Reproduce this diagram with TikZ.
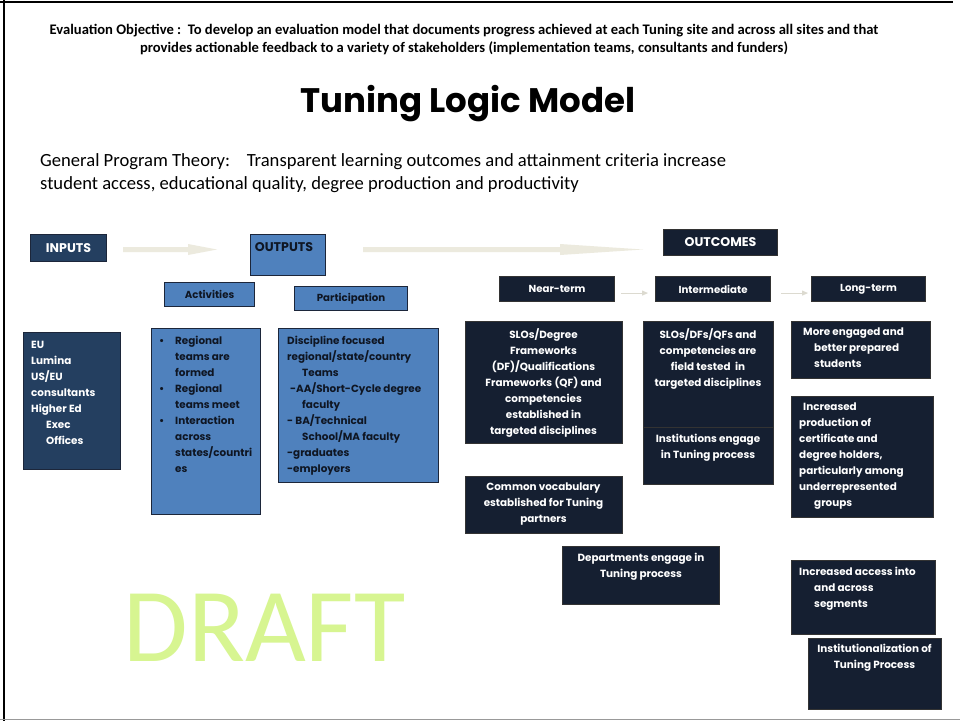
\documentclass[tikz,border=0pt]{standalone}
\usepackage{fontspec}
\setmainfont{Poppins}
\newfontfamily\calibri{Carlito}
\usetikzlibrary{arrows.meta}
\definecolor{lblue}{RGB}{79,129,189}
\definecolor{dslate}{RGB}{36,63,96}
\definecolor{dnavy}{RGB}{21,31,49}
\definecolor{arrowc}{RGB}{236,234,222}
\definecolor{draftc}{RGB}{215,245,145}
\definecolor{bordc}{RGB}{28,38,58}
\definecolor{darktext}{RGB}{15,22,35}
\tikzset{
  boxbase/.style={draw=bordc, line width=1.1pt, inner sep=0pt, anchor=north west},
  lbox/.style={boxbase, fill=lblue},
  sbox/.style={boxbase, fill=dslate},
  nbox/.style={boxbase, fill=dnavy, draw=black!80},
  btxt/.style={font=\fontsize{10.4}{16}\selectfont\bfseries, inner sep=0pt, text=white},
  htxt/.style={font=\fontsize{12.6}{14}\selectfont\bfseries, inner sep=0pt},
  subt/.style={font=\fontsize{10.2}{12}\selectfont\bfseries, inner sep=0pt},
  bigarrow/.style={fill=arrowc, draw=none},
  smallarrow/.style={draw=arrowc!85!gray, line width=0.9pt, -{Triangle[length=6pt,width=5pt]}}
}
\begin{document}
\begin{tikzpicture}[x=1pt,y=-1pt]
\useasboundingbox (0,0) rectangle (960,721);
\fill[white] (0,0) rectangle (960,721);
% frame
\draw[black, line width=2pt] (4,0) -- (4,721);
\draw[black, line width=1.5pt] (0,2) -- (953,2);
\draw[gray!80, line width=1.2pt] (0,719.5) -- (960,719.5);
% watermark
\node[font=\calibri\fontsize{105}{105}\selectfont, text=draftc, inner sep=0pt] (draft) at (264.5,628) {DRAFT};
% header
\node[font=\calibri\bfseries\fontsize{14.6}{18}\selectfont, align=center, inner sep=0pt] (obj) at (464,40)
 {Evaluation Objective :\ \ To develop an evaluation model that documents progress achieved at each Tuning site and across all sites and that\\
  provides actionable feedback to a variety of stakeholders (implementation teams, consultants and funders)};
\node[font=\fontsize{34}{38}\selectfont\bfseries, inner sep=0pt] (title) at (468,104) {Tuning Logic Model};
\node[font=\calibri\fontsize{18.6}{23}\selectfont, align=left, anchor=north west, inner sep=0pt] (theory) at (40,153)
 {General Program Theory:\hspace{0.6em} Transparent learning outcomes and attainment criteria increase\\
  student access, educational quality, degree production and productivity};
% header boxes
\node[sbox, minimum width=76pt, minimum height=27pt] (inputs) at (30,234) {};
\node[htxt, text=white] (inputsT) at (inputs.center) {INPUTS};
\node[lbox, minimum width=75pt, minimum height=41pt] (outputs) at (250,234) {};
\node[htxt, text=darktext] (outputsT) at (284,247) {OUTPUTS};
\node[nbox, minimum width=114pt, minimum height=26pt] (outcomes) at (663,229) {};
\node[htxt, text=white] (outcomesT) at (outcomes.center) {OUTCOMES};
% big light arrows (inputs -> outputs -> outcomes)
\coordinate (a1s) at (123,249.5);
\coordinate (a1e) at (217,249.5);
\coordinate (a2s) at (363,249.5);
\coordinate (a2e) at (643,249.5);
\fill[bigarrow] (a1s) ++(0,-2.5) -- ++(65,0) -- ++(0,-3) -- (a1e) -- ++(-29,5.5) -- ++(0,-3) -- ++(-65,0) -- cycle;
\fill[bigarrow] (a2s) ++(0,-2.5) -- ++(197,0) -- ++(0,-3) -- (a2e) -- ++(-83,5.5) -- ++(0,-3) -- ++(-197,0) -- cycle;
% sub headers
\node[lbox, minimum width=90pt, minimum height=24pt] (act) at (164,282) {};
\node[subt, text=darktext] (actT) at (act.center) {Activities};
\node[lbox, minimum width=113pt, minimum height=24pt] (part) at (294,286) {};
\node[subt, text=darktext] (partT) at (part.center) {Participation};
\node[nbox, minimum width=115pt, minimum height=25pt] (near) at (499,276) {};
\node[subt, text=white] (nearT) at (near.center) {Near-term};
\node[nbox, minimum width=115pt, minimum height=25pt] (inter) at (655,276) {};
\node[subt, text=white] (interT) at (inter.center) {Intermediate};
\node[nbox, minimum width=114pt, minimum height=25pt] (long) at (811,276) {};
\node[subt, text=white] (longT) at (long.center) {Long-term};
\draw[smallarrow] ([xshift=6pt,yshift=-4pt]near.east) -- ([xshift=-7pt,yshift=-4pt]inter.west);
\draw[smallarrow] ([xshift=10pt,yshift=-4pt]inter.east) -- ([xshift=-3pt,yshift=-4pt]long.west);
% inputs body
\node[sbox, minimum width=97pt, minimum height=137pt] (eu) at (23,332) {};
\node[btxt, anchor=north west, align=left] (euT) at (31,341)
 {EU\\Lumina\\US/EU\\consultants\\Higher Ed\\\hspace*{15pt}Exec\\\hspace*{15pt}Offices};
% activities body
\node[lbox, minimum width=109pt, minimum height=186pt] (actb) at (151,328) {};
\node[btxt, text=darktext, anchor=north west, align=left] (actbT) at (159,336)
 {\makebox[16pt][l]{\textbullet}Regional\\\hspace*{16pt}teams are\\\hspace*{16pt}formed\\
  \makebox[16pt][l]{\textbullet}Regional\\\hspace*{16pt}teams meet\\
  \makebox[16pt][l]{\textbullet}Interaction\\\hspace*{16pt}across\\\hspace*{16pt}states/countri\\\hspace*{16pt}es};
% participation body
\node[lbox, minimum width=160pt, minimum height=154pt] (partb) at (278,328) {};
\node[btxt, text=darktext, anchor=north west, align=left] (partbT) at (287,336)
 {Discipline focused\\regional/state/country\\\hspace*{15pt}Teams\\\hspace*{3pt}-AA/Short-Cycle degree\\\hspace*{15pt}faculty\\- BA/Technical\\\hspace*{15pt}School/MA faculty\\-graduates\\-employers};
% near-term body
\node[nbox, minimum width=157pt, minimum height=122pt] (slo) at (465,321) {};
\node[btxt, anchor=north, align=center] (sloT) at (543.5,328)
 {SLOs/Degree\\Frameworks\\(DF)/Qualifications\\Frameworks (QF) and\\competencies\\established in\\targeted disciplines};
\node[nbox, minimum width=157pt, minimum height=57pt] (vocab) at (465,476) {};
\node[btxt, anchor=north, align=center] (vocabT) at (543.5,483)
 {Common vocabulary\\established for Tuning\\partners};
\node[nbox, minimum width=157pt, minimum height=58pt] (dept) at (562,546) {};
\node[btxt, anchor=north, align=center] (deptT) at (641,553)
 {Departments engage in\\Tuning process};
% intermediate body
\node[nbox, minimum width=130pt, minimum height=106pt] (field) at (643,321) {};
\node[btxt, anchor=north, align=center] (fieldT) at (708,328)
 {SLOs/DFs/QFs and\\competencies are\\field tested\ \ in\\targeted disciplines};
\node[nbox, minimum width=130pt, minimum height=57pt] (inst) at (643,427) {};
\node[btxt, anchor=north, align=center] (instT) at (708,434)
 {Institutions engage\\in Tuning process};
% long-term body
\node[nbox, minimum width=139pt, minimum height=57pt] (engaged) at (791,321) {};
\node[btxt, anchor=north west, align=left] (engagedT) at (803,328)
 {More engaged and\\\hspace*{11pt}better prepared\\\hspace*{11pt}students};
\node[nbox, minimum width=142pt, minimum height=121pt] (prod) at (791,396) {};
\node[btxt, anchor=north west, align=left] (prodT) at (799,403)
 {\hspace*{4pt}Increased\\production of\\certificate and\\degree holders,\\particularly among\\underrepresented\\\hspace*{15pt}groups};
\node[nbox, minimum width=144pt, minimum height=74pt] (access) at (791,560) {};
\node[btxt, anchor=north west, align=left] (accessT) at (799,567)
 {Increased access into\\\hspace*{15pt}and across\\\hspace*{15pt}segments};
\node[nbox, minimum width=133pt, minimum height=71pt] (instz) at (808,638) {};
\node[btxt, anchor=north, align=center] (instzT) at (874.5,644)
 {Institutionalization of\\Tuning Process};
\end{tikzpicture}
\end{document}
